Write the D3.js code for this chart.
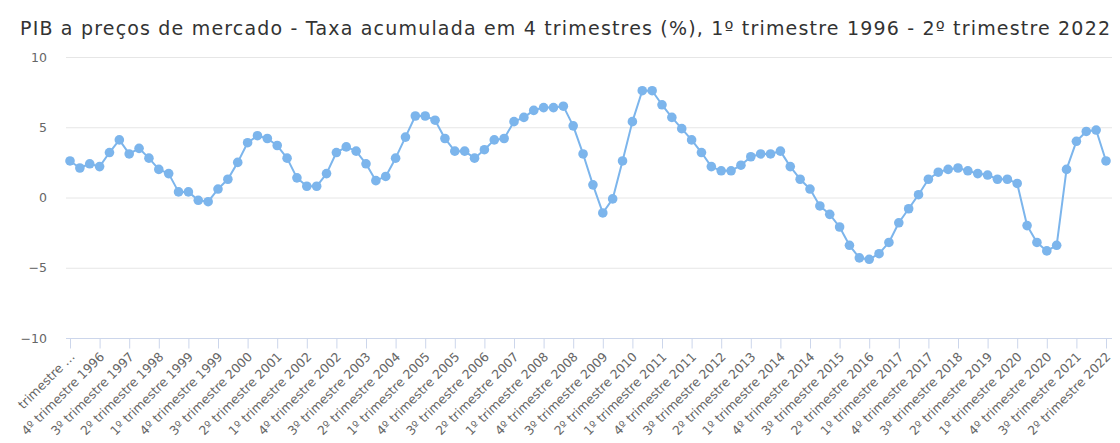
<!DOCTYPE html>
<meta charset="utf-8">
<title>PIB a preços de mercado</title>
<style>
body { margin: 0; background: #fff; }
text { font-family: "DejaVu Sans", sans-serif; }
</style>
<body>
<script src="https://cdn.jsdelivr.net/npm/d3@7"></script>
<script>

var width = 1120,
    height = 443;

var title = "PIB a preços de mercado - Taxa acumulada em 4 trimestres (%), 1º trimestre 1996 - 2º trimestre 2022";

// quarters from 1º trimestre 1996 to 2º trimestre 2022
var years = d3.range(1996, 2023);
var quarters = ["1º", "2º", "3º", "4º"];
var categories = [];
years.forEach(function(y) {
    quarters.forEach(function(q) { categories.push(q + " trimestre " + y); });
});
categories = categories.slice(0, 106);

var values = [2.6, 2.1, 2.4, 2.2, 3.2, 4.1, 3.1, 3.5, 2.8, 2.0,
    1.7, 0.4, 0.4, -0.2, -0.3, 0.6, 1.3, 2.5, 3.9, 4.4,
    4.2, 3.7, 2.8, 1.4, 0.8, 0.8, 1.7, 3.2, 3.6, 3.3,
    2.4, 1.2, 1.5, 2.8, 4.3, 5.8, 5.8, 5.5, 4.2, 3.3,
    3.3, 2.8, 3.4, 4.1, 4.2, 5.4, 5.7, 6.2, 6.4, 6.4,
    6.5, 5.1, 3.1, 0.9, -1.1, -0.1, 2.6, 5.4, 7.6, 7.6,
    6.6, 5.7, 4.9, 4.1, 3.2, 2.2, 1.9, 1.9, 2.3, 2.9,
    3.1, 3.1, 3.3, 2.2, 1.3, 0.6, -0.6, -1.2, -2.1, -3.4,
    -4.3, -4.4, -4.0, -3.2, -1.8, -0.8, 0.2, 1.3, 1.8, 2.0,
    2.1, 1.9, 1.7, 1.6, 1.3, 1.3, 1.0, -2.0, -3.2, -3.8,
    -3.4, 2.0, 4.0, 4.7, 4.8, 2.6];

var yTicks = [-10, -5, 0, 5, 10];

var svg = d3.select("body").append("svg")
    .attr("width", width)
    .attr("height", height);

var x = d3.scalePoint()
    .domain(categories)
    .range([70, 1106]);

var y = d3.scaleLinear()
    .domain([-10, 10])
    .range([338, 57]);

svg.append("text")
    .attr("x", 20)
    .attr("y", 35)
    .attr("fill", "#333")
    .attr("textLength", 1090)
    .attr("lengthAdjust", "spacing")
    .style("font-size", "19px")
    .text(title);

// grid + y labels
svg.append("g").selectAll("line")
    .data(yTicks.filter(function(d) { return d > -10; }))
    .enter().append("line")
    .attr("x1", 66).attr("x2", 1112)
    .attr("y1", function(d) { return y(d) + 0.5; })
    .attr("y2", function(d) { return y(d) + 0.5; })
    .attr("stroke", "#e6e6e6");

svg.append("g").selectAll("text")
    .data(yTicks)
    .enter().append("text")
    .attr("x", 47)
    .attr("y", function(d) { return y(d) + 4.5; })
    .attr("text-anchor", "end")
    .attr("fill", "#666")
    .style("font-size", "12.5px")
    .text(function(d) { return d < 0 ? "\u2212" + Math.abs(d) : d; });

// x axis, a label every 3 quarters
var tickCats = categories.filter(function(d, i) { return i % 3 == 0; });

var xAxis = d3.axisBottom(x)
    .tickValues(tickCats)
    .tickSize(10)
    .tickSizeOuter(0)
    .tickFormat(function(d, i) { return i == 0 ? "trimestre \u2026" : d; });

var gx = svg.append("g")
    .attr("transform", "translate(0," + 338.5 + ")")
    .call(xAxis);

gx.select(".domain").remove();
gx.insert("line", ":first-child")
    .attr("x1", 66).attr("x2", 1112)
    .attr("stroke", "#ccd6eb");
gx.selectAll(".tick line").attr("stroke", "#ccd6eb");
gx.selectAll(".tick text")
    .attr("fill", "#666")
    .style("font-size", "12.5px")
    .style("font-family", "DejaVu Sans, sans-serif")
    .attr("text-anchor", "end")
    .attr("dy", null)
    .attr("y", 0)
    .attr("transform", "translate(5,19) rotate(-45)");

// series
var line = d3.line()
    .x(function(d, i) { return x(categories[i]); })
    .y(function(d) { return y(d); });

svg.append("path")
    .datum(values)
    .attr("d", line)
    .attr("fill", "none")
    .attr("stroke", "#7cb5ec")
    .attr("stroke-width", 2)
    .attr("stroke-linejoin", "round");

svg.append("g").selectAll("circle")
    .data(values)
    .enter().append("circle")
    .attr("cx", function(d, i) { return x(categories[i]); })
    .attr("cy", function(d) { return y(d); })
    .attr("r", 4.8)
    .attr("fill", "#7cb5ec");

</script>
